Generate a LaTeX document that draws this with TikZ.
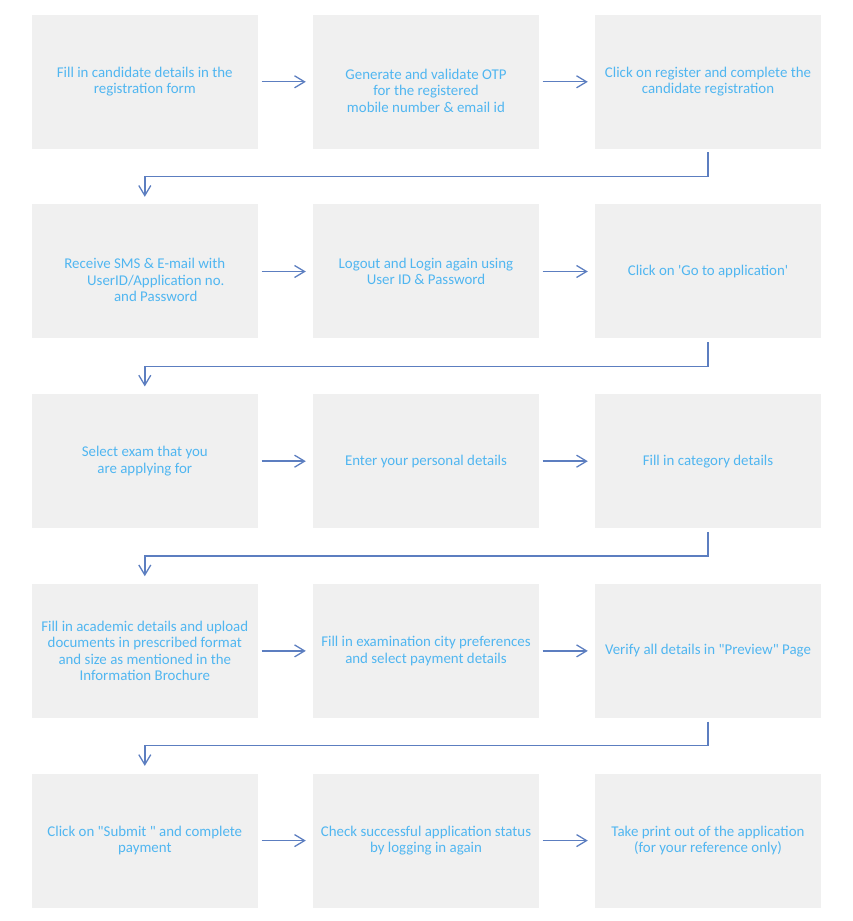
\documentclass[tikz,border=0pt]{standalone}
\usepackage{fontspec}
\newfontfamily\bodyfont{Carlito}
\usetikzlibrary{arrows.meta,positioning,calc}
\definecolor{boxfill}{RGB}{240,240,240}
\definecolor{txtblue}{RGB}{80,182,240}
\definecolor{arrblue}{RGB}{92,126,192}
\tikzset{
  stepbox/.style={fill=boxfill,draw=none,minimum width=226pt,minimum height=134pt,
    inner sep=0pt,align=center,text=txtblue,font=\bodyfont\fontsize{14.9}{16.4}\selectfont},
  flow/.style={draw=arrblue,line width=1.4pt,-{Straight Barb[length=10pt,width=12pt,line width=1.3pt]},
    shorten <=3.5pt,shorten >=7pt},
  elbow/.style={draw=arrblue,line width=1.4pt,-{Straight Barb[length=10pt,width=12pt,line width=1.3pt]},
    shorten <=3.5pt,shorten >=7.5pt}
}
\begin{document}
\begin{tikzpicture}[x=1pt,y=1pt]
\useasboundingbox (0,0) rectangle (852,921);
% columns x: 144.8, 426, 708 ; rows y (from top): 81.8, 271.5, 461.2, 650.9, 840.6
\node[stepbox] (a1) at (144.8,839.2) {Fill in candidate details in the\\registration form};
\node[stepbox] (a2) at (426,839.2) {\strut\\Generate and validate OTP\\for the registered\\mobile number \& email id};
\node[stepbox] (a3) at (708,839.2) {Click on register and complete the\\candidate registration};
\node[stepbox] (b1) at (144.8,649.5) {\strut\\Receive SMS \& E-mail with\\\hspace*{22pt}UserID/Application no.\\\hspace*{22pt}and Password};
\node[stepbox] (b2) at (426,649.5) {Logout and Login again using\\User ID \& Password};
\node[stepbox] (b3) at (708,649.5) {Click on 'Go to application'};
\node[stepbox] (c1) at (144.8,459.8) {Select exam that you\\are applying for};
\node[stepbox] (c2) at (426,459.8) {Enter your personal details};
\node[stepbox] (c3) at (708,459.8) {Fill in category details};
\node[stepbox] (d1) at (144.8,270.1) {Fill in academic details and upload\\documents in prescribed format\\and size as mentioned in the\\Information Brochure};
\node[stepbox] (d2) at (426,270.1) {Fill in examination city preferences\\and select payment details};
\node[stepbox] (d3) at (708,270.1) {Verify all details in "Preview" Page};
\node[stepbox] (e1) at (144.8,80.4) {Click on "Submit " and complete\\payment};
\node[stepbox] (e2) at (426,80.4) {Check successful application status\\by logging in again};
\node[stepbox] (e3) at (708,80.4) {Take print out of the application\\(for your reference only)};
% horizontal arrows
\foreach \r in {a,b,c,d,e}{
  \draw[flow] (\r1.east) -- (\r2.west);
  \draw[flow] (\r2.east) -- (\r3.west);
}
% elbow connectors
\foreach \u/\v in {a/b,b/c,c/d,d/e}{
  \coordinate (\u mid) at ($(\u3.south)!0.5!(\v3.north)$);
  \draw[elbow] (\u3.south) -- (\u mid) -| (\v1.north);
}
\end{tikzpicture}
\end{document}
